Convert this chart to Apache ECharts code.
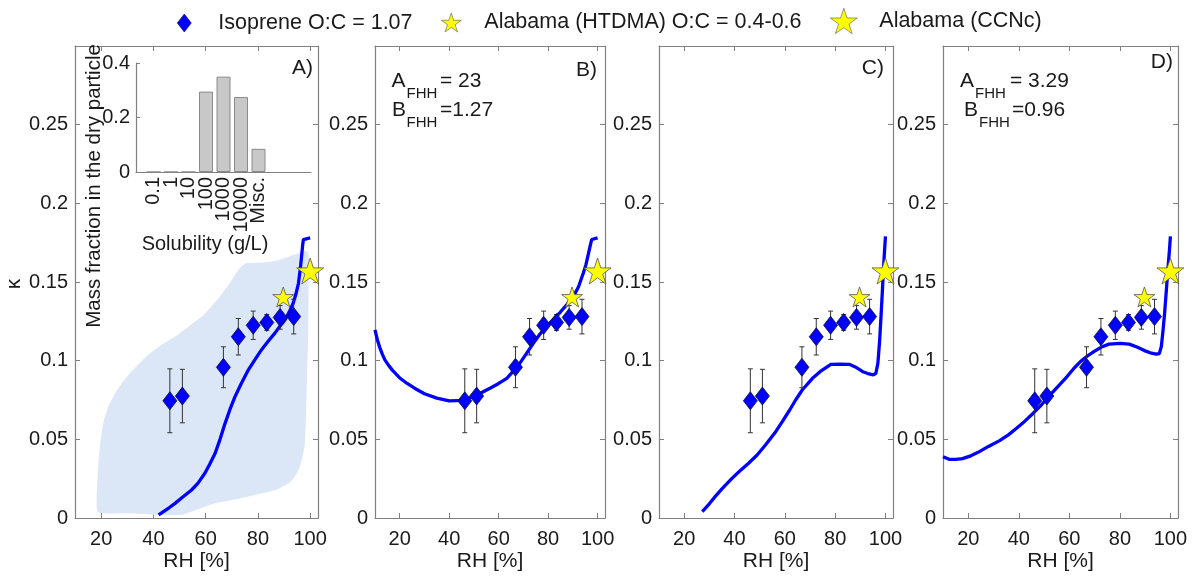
<!DOCTYPE html>
<html>
<head>
<meta charset="utf-8">
<script src="https://cdn.jsdelivr.net/npm/echarts@6/dist/echarts.min.js"></script>
<style>
  html, body { margin: 0; padding: 0; background: #ffffff; }
  #chart { width: 1193px; height: 576px; }
</style>
</head>
<body>
<div id="chart"></div>
<script>
// ---- Isoprene SOA hygroscopicity (same in every panel) ----
const rhIso = [46.3, 51.1, 66.8, 72.5, 78.2, 83.4, 88.5, 93.7];
const kappaIso = [0.0745, 0.0775, 0.0958, 0.1152, 0.1225, 0.1243, 0.1275, 0.128];
const kappaIsoErr = [0.0203, 0.0170, 0.0130, 0.0116, 0.0090, 0.0050, 0.0075, 0.0110];

// ---- Alabama field measurements ----
const htdmaRH = [89.7];
const htdmaKappa = [0.1405];
const ccncRH = [100];
const ccncKappa = [0.157];

// ---- Model curves, one per panel ----
const curveA_RH = [42, 46, 48.3, 51, 54.6, 57, 59.7, 61.5, 63.6, 65.5, 67.4, 69.3, 71.2, 73.5, 76.3, 79, 81.4, 84, 86.5, 88.5, 90.4, 92, 93.5, 94.5, 95.5, 96.2, 96.7, 97.1, 97.4, 98, 100];
const curveA_K  = [0.002, 0.0065, 0.0093, 0.013, 0.0178, 0.022, 0.0284, 0.034, 0.041, 0.050, 0.060, 0.069, 0.077, 0.085, 0.094, 0.101, 0.107, 0.1125, 0.1175, 0.122, 0.126, 0.131, 0.1365, 0.142, 0.149, 0.158, 0.166, 0.173, 0.177, 0.178, 0.178];

const curveB_RH = [10, 11, 12, 13, 14, 15.5, 17, 20, 23, 26, 30, 35, 40, 46, 51, 56.5, 60, 63.3, 66, 68.6, 71, 74, 76.5, 79.4, 82, 84.8, 87.5, 90.2, 92.3, 94.2, 95.3, 96.3, 97, 97.6, 98.2, 100];
const curveB_K  = [0.1196, 0.113, 0.108, 0.104, 0.1005, 0.097, 0.094, 0.089, 0.0855, 0.0825, 0.079, 0.0762, 0.0745, 0.0748, 0.078, 0.0825, 0.0855, 0.0888, 0.0935, 0.0984, 0.104, 0.111, 0.1165, 0.1217, 0.126, 0.1306, 0.1355, 0.1407, 0.147, 0.1556, 0.161, 0.168, 0.173, 0.177, 0.178, 0.178];

const curveC_RH = [27.2, 30, 32.3, 35, 39, 42, 45.6, 49, 52.3, 56, 59, 62, 64.3, 67, 71, 74, 78.3, 82, 85.6, 88, 91, 93, 95.2, 96.2, 97, 97.7, 98.3, 98.8, 99.2, 99.6, 100];
const curveC_K  = [0.004, 0.009, 0.0136, 0.0185, 0.0252, 0.0297, 0.0348, 0.040, 0.0464, 0.054, 0.0613, 0.0688, 0.075, 0.0815, 0.0888, 0.093, 0.0977, 0.0978, 0.0977, 0.096, 0.093, 0.0918, 0.091, 0.092, 0.0984, 0.113, 0.130, 0.145, 0.158, 0.169, 0.179];

const curveD_RH = [10, 12.4, 15, 17.7, 21, 24.4, 28, 32.4, 36, 39.1, 42.5, 45.7, 49, 52.4, 56, 59.1, 62, 64.4, 67, 69.7, 72.5, 75.7, 80, 83.7, 87, 89.7, 92, 94.4, 95.6, 96.4, 97, 97.7, 98.4, 99.1, 99.6, 100];
const curveD_K  = [0.039, 0.0373, 0.0372, 0.0377, 0.0395, 0.0422, 0.0455, 0.0492, 0.053, 0.057, 0.0617, 0.0666, 0.072, 0.0782, 0.0845, 0.0899, 0.0955, 0.0994, 0.1028, 0.1058, 0.1085, 0.1105, 0.111, 0.1105, 0.1085, 0.1064, 0.105, 0.1041, 0.1045, 0.109, 0.118, 0.130, 0.145, 0.160, 0.170, 0.179];

// ---- Uncertainty envelope of panel A ----
const bandRH = [18.7, 18.8, 19.5, 20.8, 22.8, 25.3, 28, 31, 38, 43, 48.3, 53, 58.5, 62, 66.1, 69.5, 72.5, 74.5, 76, 84, 88, 91.6, 95, 98, 99.4, 99.4, 99.3, 98.6, 98, 97, 95.5, 93.5, 91.6, 87, 81.4, 72, 63.6, 56, 50.8, 41.9, 30];
const bandK  = [0.004, 0.030, 0.045, 0.060, 0.071, 0.079, 0.086, 0.092, 0.1037, 0.110, 0.1153, 0.121, 0.128, 0.134, 0.142, 0.150, 0.1577, 0.161, 0.162, 0.1626, 0.164, 0.166, 0.168, 0.170, 0.168, 0.150, 0.1196, 0.077, 0.0475, 0.038, 0.0305, 0.025, 0.022, 0.018, 0.0157, 0.012, 0.0093, 0.005, 0.002, 0.002, 0.003];

// ---- Inset: solubility distribution ----
const solubilityCats = ['0.1', '1', '10', '100', '1000', '10000', 'Misc.'];
const massFraction = [0, 0, 0, 0.295, 0.35, 0.275, 0.085];

// ---- Axis ticks ----
const rhTicks = [20, 40, 60, 80, 100];
const kappaTicks = [0, 0.05, 0.1, 0.15, 0.2, 0.25];

const FONT = '"Liberation Sans", Arial, Helvetica, sans-serif';
const TXT = '#1a1a1a';
const AX = '#808080';
const BLUE = '#0000ff';
const STAR = 'path://M50,0 L61.8,35.1 L98.9,35.1 L68.9,56.7 L80.3,91.9 L50,70 L19.7,91.9 L31.1,56.7 L1.1,35.1 L38.2,35.1 Z';

const NAME_ISO = 'Isoprene O:C = 1.07';
const NAME_HTDMA = 'Alabama (HTDMA) O:C = 0.4-0.6';
const NAME_CCNC = 'Alabama (CCNc)';

const panels = [
  { left: 75,  width: 243, rh: curveA_RH, k: curveA_K, band: true },
  { left: 375, width: 230, rh: curveB_RH, k: curveB_K },
  { left: 659, width: 234, rh: curveC_RH, k: curveC_K },
  { left: 943, width: 235, rh: curveD_RH, k: curveD_K }
];
const TOP = 46, HEIGHT = 472;

const grids = [], xAxes = [], yAxes = [], series = [];

panels.forEach((p, i) => {
  grids.push({ left: p.left, top: TOP, width: p.width, height: HEIGHT, outerBoundsMode: 'none', containLabel: false });
  const common = { min: 10, max: 103, gridIndex: i, type: 'value', splitLine: { show: false },
    axisLine: { show: true, onZero: false, lineStyle: { color: AX, width: 1.2 } } };
  xAxes.push(Object.assign({}, common, {
    position: 'bottom',
    axisTick: { show: true, inside: true, length: 5, customValues: rhTicks, lineStyle: { color: AX } },
    axisLabel: { show: true, customValues: rhTicks, margin: 11, fontSize: 20, fontFamily: FONT, color: TXT,
      showMinLabel: true, showMaxLabel: true, hideOverlap: false }
  }));
  xAxes.push(Object.assign({}, common, {
    position: 'top',
    axisTick: { show: true, inside: true, length: 5, customValues: rhTicks, lineStyle: { color: AX } },
    axisLabel: { show: false }
  }));
  const ycommon = { min: 0, max: 0.3, gridIndex: i, type: 'value', splitLine: { show: false },
    axisLine: { show: true, onZero: false, lineStyle: { color: AX, width: 1.2 } } };
  yAxes.push(Object.assign({}, ycommon, {
    position: 'left',
    axisTick: { show: true, inside: true, length: 5, customValues: kappaTicks, lineStyle: { color: AX } },
    axisLabel: { show: true, customValues: kappaTicks, margin: 7, fontSize: 20, fontFamily: FONT, color: TXT,
      showMinLabel: true, showMaxLabel: true, hideOverlap: false,
      formatter: v => String(Math.round(v * 100) / 100) }
  }));
  yAxes.push(Object.assign({}, ycommon, {
    position: 'right',
    axisTick: { show: true, inside: true, length: 5, customValues: kappaTicks, lineStyle: { color: AX } },
    axisLabel: { show: false }
  }));

  const ax = { xAxisIndex: 2 * i, yAxisIndex: 2 * i };

  if (p.band) {
    series.push(Object.assign({
      type: 'custom', name: 'envelope', z: 1, clip: true, silent: true,
      data: bandRH.map((r, j) => [r, bandK[j]]),
      renderItem: (params, api) => {
        if (params.dataIndex !== 0) return null;
        const pts = bandRH.map((r, j) => api.coord([r, bandK[j]]));
        return { type: 'polygon', shape: { points: pts, smooth: 0.15 }, style: { fill: '#dbe7f7' } };
      }
    }, ax));
  }

  series.push(Object.assign({
    type: 'line', name: 'model', z: 2, showSymbol: false, symbol: 'none', clip: true, silent: true,
    data: p.rh.map((r, j) => [r, p.k[j]]),
    lineStyle: { color: BLUE, width: 3.3 }
  }, ax));

  series.push(Object.assign({
    type: 'custom', name: 'error', z: 3, silent: true,
    data: rhIso.map((r, j) => [r, kappaIso[j] - kappaIsoErr[j], kappaIso[j] + kappaIsoErr[j]]),
    renderItem: (params, api) => {
      const x = api.value(0);
      const top = api.coord([x, api.value(2)]);
      const bot = api.coord([x, api.value(1)]);
      const cap = 2.5;
      const st = { stroke: '#333333', lineWidth: 1 };
      return { type: 'group', children: [
        { type: 'line', shape: { x1: top[0], y1: top[1], x2: bot[0], y2: bot[1] }, style: st },
        { type: 'line', shape: { x1: top[0] - cap, y1: top[1], x2: top[0] + cap, y2: top[1] }, style: st },
        { type: 'line', shape: { x1: bot[0] - cap, y1: bot[1], x2: bot[0] + cap, y2: bot[1] }, style: st }
      ] };
    }
  }, ax));

  series.push(Object.assign({
    type: 'scatter', name: NAME_ISO, z: 4, symbol: 'diamond', symbolSize: [14, 18],
    data: rhIso.map((r, j) => [r, kappaIso[j]]),
    itemStyle: { color: BLUE, borderColor: '#111133', borderWidth: 0.8, opacity: 1 }
  }, ax));

  series.push(Object.assign({
    type: 'scatter', name: NAME_HTDMA, z: 5, symbol: STAR, symbolSize: [21, 20],
    data: htdmaRH.map((r, j) => [r, htdmaKappa[j]]),
    itemStyle: { color: '#ffff00', borderColor: '#555555', borderWidth: 0.8, opacity: 1 }
  }, ax));

  series.push(Object.assign({
    type: 'scatter', name: NAME_CCNC, z: 5, symbol: STAR, symbolSize: [27, 26], clip: false,
    data: ccncRH.map((r, j) => [r, ccncKappa[j]]),
    itemStyle: { color: '#ffff00', borderColor: '#555555', borderWidth: 0.8, opacity: 1 }
  }, ax));
});

// ---- Inset bar chart inside panel A ----
// Category slots 0..10; the seven solubility classes sit on slots 1..7, the rest stay empty.
const insetSlots = [''].concat(solubilityCats, ['', '', '']);
const insetValues = [null].concat(massFraction, [null, null, null]);

grids.push({ left: 136, top: 63, width: 175, height: 109, outerBoundsMode: 'none', containLabel: false });
xAxes.push({
  gridIndex: 4, type: 'category', data: insetSlots, boundaryGap: false, position: 'bottom',
  splitLine: { show: false },
  axisLine: { show: true, onZero: false, lineStyle: { color: AX, width: 1.2 } },
  axisTick: { show: false },
  axisLabel: { show: true, interval: 0, rotate: 90, margin: 5, fontSize: 20, lineHeight: 14,
    fontFamily: FONT, color: TXT, hideOverlap: false }
});
yAxes.push({
  gridIndex: 4, type: 'value', min: 0, max: 0.4, interval: 0.2, position: 'left', splitLine: { show: false },
  axisLine: { show: true, onZero: false, lineStyle: { color: AX, width: 1.2 } },
  axisTick: { show: true, inside: true, length: 4, lineStyle: { color: AX } },
  axisLabel: { show: true, margin: 6, fontSize: 20, fontFamily: FONT, color: TXT,
    showMinLabel: true, showMaxLabel: true, hideOverlap: false,
    formatter: v => String(Math.round(v * 10) / 10) }
});
series.push({
  type: 'bar', name: 'solubility', xAxisIndex: 8, yAxisIndex: 8, z: 6, silent: true,
  barWidth: 14,
  data: insetValues,
  itemStyle: { color: '#c8c8c8', borderColor: '#8a8a8a', borderWidth: 1 }
});

// ---- Free text: axis names, panel tags, FHH parameters ----
function txt(x, y, s, opt) {
  return {
    type: 'text', x: x, y: y, z: 20,
    style: Object.assign({ text: s, font: '21px ' + FONT, fill: TXT, align: 'left', verticalAlign: 'middle' }, opt || {})
  };
}
const graphics = [];
panels.forEach(p => graphics.push(txt(p.left + p.width / 2, 561, 'RH [%]', { align: 'center' })));
graphics.push(Object.assign(txt(14, 284, 'κ', { align: 'center' }), { rotation: Math.PI / 2 }));
graphics.push(Object.assign(txt(94, 186, 'Mass fraction in the dry particle', { align: 'center', font: '20.5px ' + FONT }), { rotation: Math.PI / 2 }));
graphics.push(txt(205, 244, 'Solubility (g/L)', { align: 'center', font: '20px ' + FONT }));
graphics.push(txt(313, 68, 'A)', { align: 'right' }));
graphics.push(txt(597, 70, 'B)', { align: 'right' }));
graphics.push(txt(884, 68, 'C)', { align: 'right' }));
graphics.push(txt(1173, 62, 'D)', { align: 'right' }));

const SUB = { font: '15px ' + FONT };
// panel B parameters
graphics.push(txt(391.5, 81, 'A'), txt(406.5, 94, 'FHH', SUB), txt(440, 81, '= 23'));
graphics.push(txt(392, 110, 'B'), txt(406.5, 123, 'FHH', SUB), txt(440, 110, '=1.27'));
// panel D parameters
graphics.push(txt(960, 81, 'A'), txt(975, 94, 'FHH', SUB), txt(1010, 81, '= 3.29'));
graphics.push(txt(964, 110, 'B'), txt(979, 123, 'FHH', SUB), txt(1012, 110, '=0.96'));

// ---- Legend entries ----
function legendEntry(name, left, icon, w, h, gap) {
  return {
    data: [{ name: name, icon: icon }], left: left, top: 21 - h / 2, padding: 0,
    itemWidth: w, itemHeight: h, selectedMode: false,
    itemStyle: { borderWidth: 0.6 },
    formatter: n => '{g| }' + n,
    textStyle: { fontSize: 21.5, fontFamily: FONT, color: TXT, rich: { g: { width: gap } } }
  };
}

const chart = echarts.init(document.getElementById('chart'), null, { renderer: 'canvas' });
chart.setOption({
  animation: false,
  backgroundColor: '#ffffff',
  textStyle: { fontFamily: FONT },
  legend: [
    legendEntry(NAME_ISO, 177, 'diamond', 14, 18, 22),
    legendEntry(NAME_HTDMA, 441, STAR, 20, 19, 18),
    legendEntry(NAME_CCNC, 830, STAR, 27, 26, 17)
  ],
  grid: grids,
  xAxis: xAxes,
  yAxis: yAxes,
  series: series,
  graphic: graphics
});
</script>
</body>
</html>
